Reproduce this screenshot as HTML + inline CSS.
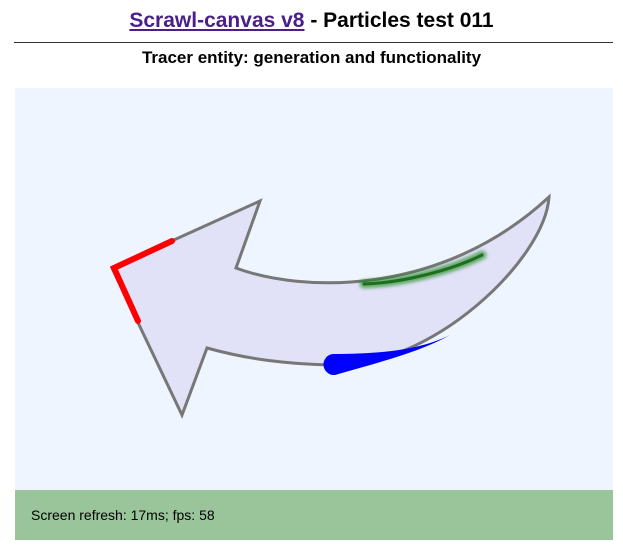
<!DOCTYPE html>
<html><head><meta charset="utf-8"><style>
body{margin:0;width:623px;height:552px;background:#fff;font-family:"Liberation Sans",Arial,sans-serif;overflow:hidden}
h1{margin:0;position:absolute;top:9px;left:0;width:623px;text-align:center;font-size:21px;font-weight:bold}
h1 a{color:#4b1f8a;text-decoration:underline}
.hr{position:absolute;top:42px;left:14px;width:599px;height:1px;background:#333}
h2{margin:0;position:absolute;top:48px;left:0;width:623px;text-align:center;font-size:17px;font-weight:bold}
.canvas{position:absolute;left:15px;top:88px;width:598px;height:402px;background:#eef5ff}
.status{position:absolute;left:15px;top:490px;width:598px;height:50px;background:#9ac49a}
.status span{position:absolute;left:16px;top:17px;font-size:14px;color:#000}
</style></head><body>
<h1><a href="#">Scrawl-canvas v8</a> - Particles test 011</h1>
<div class="hr"></div>
<h2>Tracer entity: generation and functionality</h2>
<svg class="canvas" style="position:absolute" width="598" height="402" viewBox="15 88 598 402">
<defs><filter id="bl" x="-10%" y="-50%" width="120%" height="200%"><feGaussianBlur stdDeviation="1.5"/></filter></defs>
<path d="M236,268 C300,292 440,298 549,197 C545,260 430,370 330,365 C290,364 250,360 207,348 L182,415 L112,268 L260,201 Z" fill="#e1e1f7" stroke="#777" stroke-width="3" stroke-linejoin="miter"/>
<path d="M172,241 L114,268 L138,321" fill="none" stroke="#f00" stroke-width="6" stroke-linecap="round" stroke-linejoin="miter"/>
<path d="M364,284 C400,283 450,271 482,255" fill="none" stroke="rgba(0,128,0,0.55)" stroke-width="9" stroke-linecap="round" filter="url(#bl)"/>
<path d="M364,284 C400,283 450,271 482,255" fill="none" stroke="#1e6e1e" stroke-width="3" stroke-linecap="round"/>
<path d="M333,354 C380,354 420,350 450,335 C420,352 380,362 335,375 A10.5,10.5 0 0 1 333,354 Z" fill="#0000ff"/>
</svg>
<div class="status"><span>Screen refresh: 17ms; fps: 58</span></div>
</body></html>
